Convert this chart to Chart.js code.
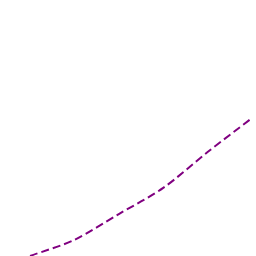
<!DOCTYPE html>
<html>
<head>
<meta charset="utf-8">
<script src="https://cdn.jsdelivr.net/npm/chart.js@4"></script>
<style>
  html, body { margin: 0; padding: 0; background: #fff; }
  #wrap { width: 256px; height: 256px; }
</style>
</head>
<body>
<div id="wrap"><canvas id="chart"></canvas></div>
<script>
// values
const xValues = [1, 2, 3, 4, 5, 6];
const yValues = [0, 6.3, 16.4, 26.6, 40.6, 53.9];

const points = xValues.map((x, i) => ({ x: x, y: yValues[i] }));

new Chart(document.getElementById("chart").getContext("2d"), {
    type: "line",
    data: {
        datasets: [{
            data: points,
            borderColor: "#800080",
            borderWidth: 2,
            borderDash: [8, 4],
            pointRadius: 0,
            tension: 0.3,
            fill: false
        }]
    },
    options: {
        responsive: true,
        maintainAspectRatio: false,
        animation: false,
        layout: { padding: 0 },
        plugins: { legend: { display: false }, tooltip: { enabled: false } },
        scales: {
            x: { type: "linear", display: false, min: 0.324, max: 6.09 },
            y: { display: false, min: 0, max: 100 }
        }
    }
});
</script>
</body>
</html>
